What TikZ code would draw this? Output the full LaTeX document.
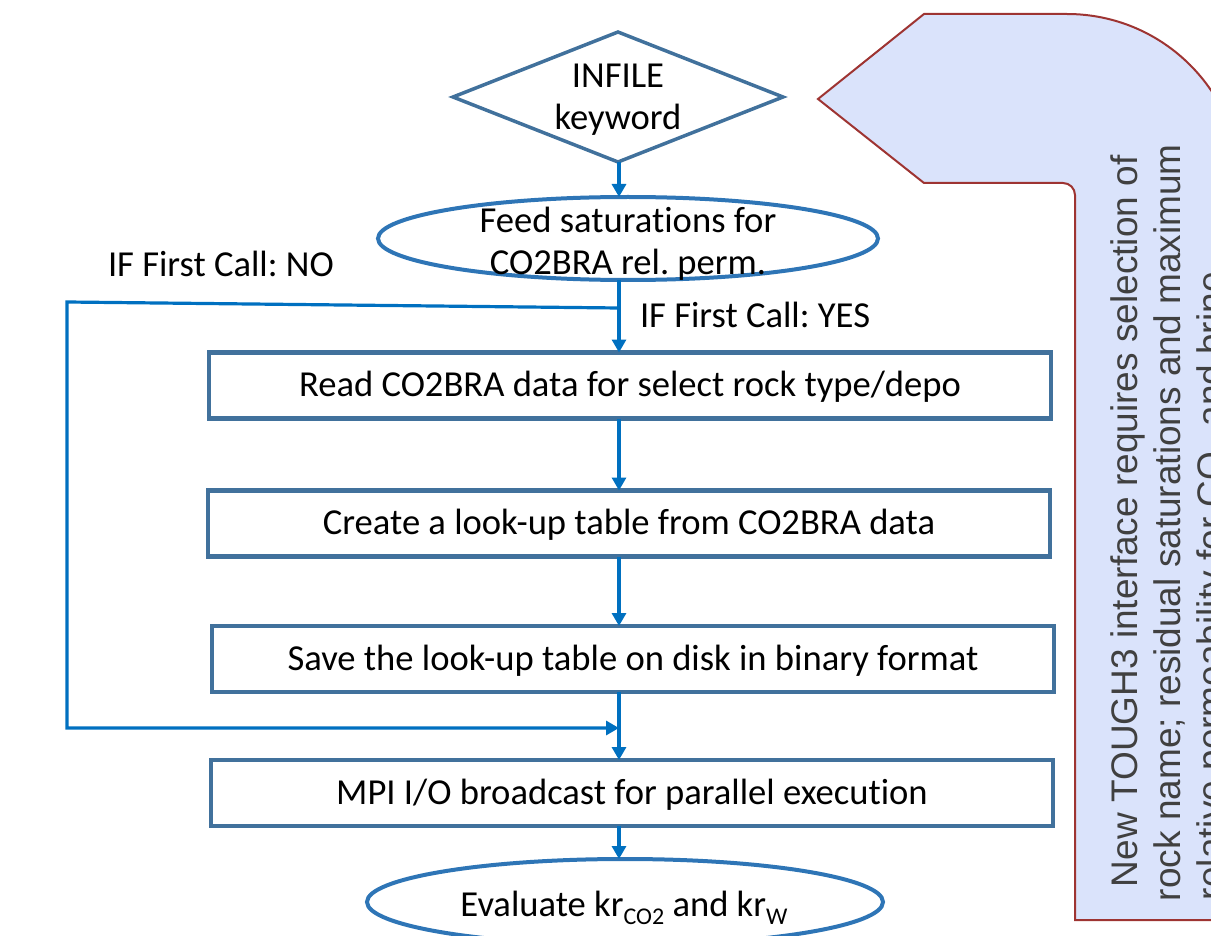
\documentclass[tikz,border=0pt]{standalone}
\usepackage{fontspec}
\setmainfont{Carlito}[Ligatures=NoCommon]
\newfontfamily\notefont{Liberation Sans}
\usetikzlibrary{shapes.geometric,arrows.meta}
\frenchspacing

\definecolor{boxblue}{RGB}{65,113,156}
\definecolor{ovalblue}{RGB}{46,117,182}
\definecolor{linkblue}{RGB}{0,112,192}
\definecolor{notefill}{RGB}{218,227,251}
\definecolor{noteedge}{RGB}{158,52,50}
\definecolor{notetext}{RGB}{64,64,64}

\begin{document}
\begin{tikzpicture}[x=1pt, y=-1pt,
  every node/.style={inner sep=0pt, outer sep=0pt, font=\fontsize{36.6}{42}\selectfont},
  stepbox/.style={draw=boxblue, line width=4.5pt, rectangle,
    minimum width=842pt, minimum height=66pt, text height=22pt, text depth=0pt},
  oval/.style={draw=ovalblue, line width=4pt, ellipse},
  choice/.style={draw=boxblue, line width=3.5pt, diamond, aspect=2.54,
    minimum width=330pt, minimum height=130pt, align=center, text depth=0pt},
  link/.style={draw=linkblue, line width=3.2pt, line join=miter},
  flow/.style={link, -{Triangle[length=13pt, width=14pt]}},
  lbl/.style={anchor=base west},
  noteline/.style={rotate=90, anchor=base west, text=notetext,
    font=\notefont\fontsize{37}{43}\selectfont},
]
\useasboundingbox (0,0) rectangle (1211,936);
\clip (0,0) rectangle (1211,936);

% bent call-out arrow on the right
\path[draw=noteedge, fill=notefill, line width=2pt]
  (818,99) -- (924,14) -- (1067,14)
  .. controls (1163.1,14) and (1241,91.9) .. (1241,188)
  -- (1241,920) -- (1075,920) -- (1075,195)
  .. controls (1075,188.4) and (1069.6,183) .. (1063,183)
  -- (924,183) -- cycle;
\node[noteline] (note1) at (1137,887) {New TOUGH3 interface requires selection of};
\node[noteline] (note2) at (1180,901) {rock name; residual saturations and maximum};
\node[noteline] (note3) at (1223,900) {relative permeability for CO\textsubscript{2} and brine};

% flowchart
\node[choice] (infile) at (618,97) {INFILE\\keyword};

\node[oval, minimum width=500pt, minimum height=83pt] (feed) at (628,238.5) {};
\node[anchor=north, align=center] (feedtxt) at (628,207) {Feed saturations for\\CO2BRA rel. perm.};

\node[stepbox] (read)   at (630,385.5) {Read CO2BRA data for select rock type/depo};
\node[stepbox] (create) at (629,523.5) {Create a look-up table from CO2BRA data};
\node[stepbox] (save)   at (633,659)   {Save the look-up table on disk in binary format};
\node[stepbox] (mpi)    at (632,793)   {MPI I/O broadcast for parallel execution};

\node[oval, minimum width=516pt, minimum height=86pt] (evalx) at (625,902) {};
\node[anchor=base] (evaltxt) at (624,916)
  {Evaluate kr\raisebox{-8pt}{\fontsize{24}{24}\selectfont CO2} and kr\raisebox{-8pt}{\fontsize{24}{24}\selectfont W}};

\node[lbl] (nolbl)  at (108,277) {IF First Call: NO};
\node[lbl] (yeslbl) at (640,327) {IF First Call: YES};

% connectors along the main column
\coordinate (col) at (619,0);
\coordinate (join) at (619,308);
\coordinate (back) at (67,302);
\coordinate (low) at (67,728);
\coordinate (merge) at (619,728);

\draw[flow] (col |- infile.south) -- (col |- feed.north);
\draw[flow] (col |- feed.south) -- (col |- read.north);
\draw[flow] (col |- read.south) -- (col |- create.north);
\draw[flow] (col |- create.south) -- (col |- save.north);
\draw[flow] (col |- save.south) -- (col |- mpi.north);
\draw[flow] (col |- mpi.south) -- (col |- evalx.north);

% bypass taken when it is not the first call
\draw[flow] (join) -- (back) -- (low) -- (merge);
\end{tikzpicture}
\end{document}
